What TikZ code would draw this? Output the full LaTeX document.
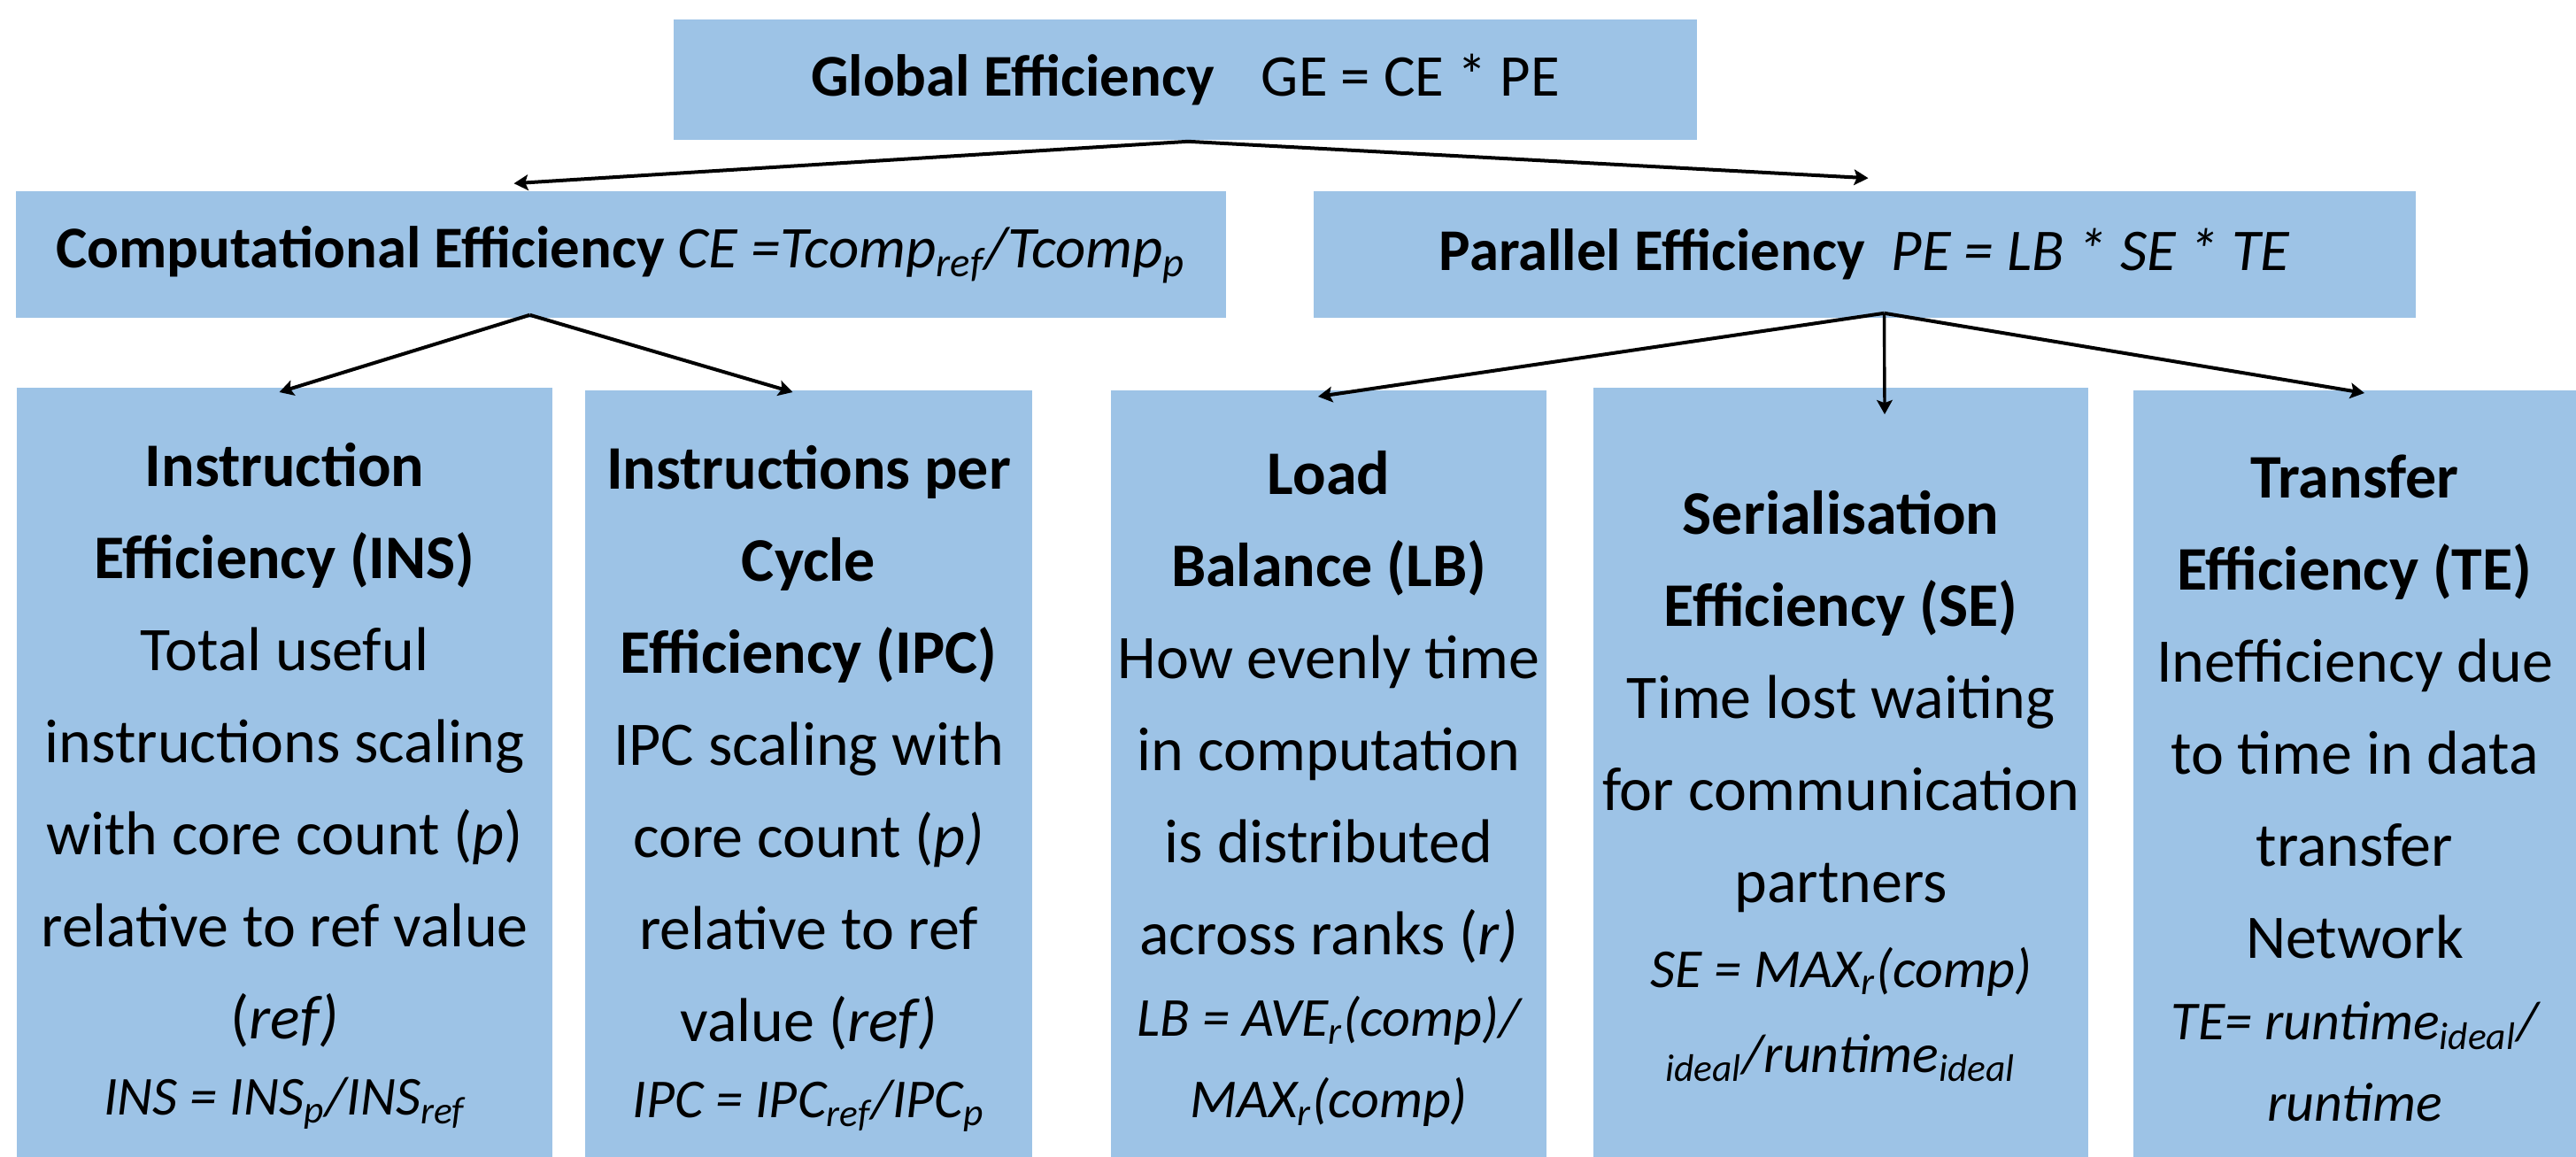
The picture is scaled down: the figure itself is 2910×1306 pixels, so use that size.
\documentclass[tikz,border=0pt]{standalone}
\usepackage{fontspec}
\setmainfont{Carlito}
\usetikzlibrary{arrows.meta,calc}
\definecolor{boxblue}{HTML}{9DC3E6}
\newcommand\fmla[1]{{\fontsize{15.5}{26}\selectfont\itshape #1}}
\tikzset{
  box/.style={fill=boxblue, draw=none, inner sep=0pt, align=center},
  hdr/.style={box, font=\fontsize{16.7}{20}\selectfont},
  leaf/.style={box, anchor=north, minimum height=225pt, font=\fontsize{17.5}{26}\selectfont},
  arr/.style={-{Stealth[length=4pt,width=4.4pt,inset=0.8pt]}, line width=1pt},
}
\begin{document}
\begin{tikzpicture}[x=0.25pt,y=-0.25pt]
\useasboundingbox (0,0) rectangle (2910,1306);
\clip (0,0) rectangle (2910,1306);
% header boxes
\node[hdr, minimum width=289pt, minimum height=34pt] (G) at (1339,90)
  {\textbf{Global Efficiency}\hspace{0.8em}GE = CE * PE};
\node[hdr, minimum width=341.75pt, minimum height=35.75pt] (CE) at (701.5,287.5)
  {\textbf{Computational Efficiency} \textit{CE =Tcomp\textsubscript{ref}/Tcomp\textsubscript{p}}};
\node[hdr, minimum width=311.25pt, minimum height=35.75pt] (PE) at (2106.5,287.5)
  {\textbf{Parallel Efficiency}\hspace{0.45em}\textit{PE = LB * SE * TE}};
% leaf boxes
\node[leaf, minimum width=151.25pt] (INS) at (321.5,437)
  {\textbf{Instruction}\\\textbf{Efficiency (INS)}\\Total useful\\instructions scaling\\with core count (\textit{p})\\relative to ref value\\(\textit{ref)}\\[-4.5pt]\fmla{INS = INS\textsubscript{p}/INS\textsubscript{ref}}};
\node[leaf, minimum width=126.25pt] (IPC) at (913.5,440)
  {\textbf{Instructions per}\\\textbf{Cycle}\\\textbf{Efficiency (IPC)}\\IPC scaling with\\core count (\textit{p)}\\relative to ref\\value (\textit{ref)}\\[-4.5pt]\fmla{IPC = IPC\textsubscript{ref}/IPC\textsubscript{p}}};
\node[leaf, minimum width=123pt] (LB) at (1501,440)
  {\textbf{Load}\\\textbf{Balance (LB)}\\How evenly time\\in computation\\is distributed\\across ranks (\textit{r)}\\[-3pt]\fmla{LB = AVE\textsubscript{r}(comp)/}\\[-3pt]\fmla{MAX\textsubscript{r}(comp)}};
\node[leaf, minimum width=139.75pt] (SE) at (2079.5,437)
  {\textbf{Serialisation}\\\textbf{Efficiency (SE)}\\Time lost waiting\\for communication\\partners\\[-2pt]\fmla{SE = MAX\textsubscript{r}(comp)}\\[-2pt]\fmla{\textsubscript{ideal}/runtime\textsubscript{ideal}}};
\node[leaf, minimum width=125pt] (TE) at (2660,440)
  {\textbf{Transfer}\\\textbf{Efficiency (TE)}\\Inefficiency due\\to time in data\\transfer\\Network\\[-3pt]\fmla{TE= runtime\textsubscript{ideal}/}\\[-3pt]\fmla{runtime}};
% connectors
\draw[arr] ($(G.south)+(3,1)$) -- ($(CE.north)+(-121,-8)$);
\draw[arr] ($(G.south)+(3,1)$) -- ($(PE.north)+(4,-14)$);
\draw[arr] ($(CE.south)+(-103,-4)$) -- ($(INS.north)+(-6,6)$);
\draw[arr] ($(CE.south)+(-103,-4)$) -- ($(IPC.north)+(-18,3)$);
\draw[arr] ($(PE.south)+(22,-6)$) -- ($(LB.north)+(-12,8)$);
\draw[arr, line width=0.85pt] ($(PE.south)+(22,-6)$) -- ($(SE.north)+(49.5,31)$);
\draw[arr] ($(PE.south)+(22,-6)$) -- ($(TE.north)+(11,4)$);
\end{tikzpicture}
\end{document}
